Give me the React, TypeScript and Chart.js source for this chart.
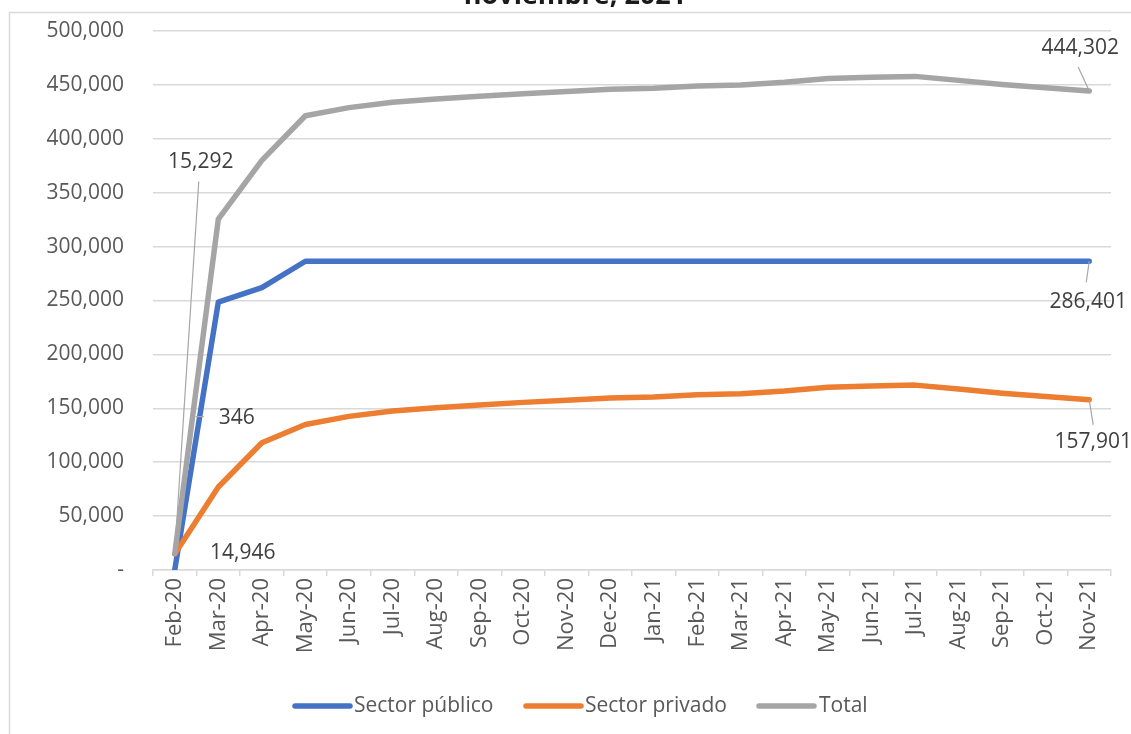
import React, { useEffect, useRef } from "react";
import { Chart, registerables } from "chart.js";

Chart.register(...registerables);

const categories = [
  "Feb-20", "Mar-20", "Apr-20", "May-20", "Jun-20", "Jul-20", "Aug-20", "Sep-20",
  "Oct-20", "Nov-20", "Dec-20", "Jan-21", "Feb-21", "Mar-21", "Apr-21", "May-21",
  "Jun-21", "Jul-21", "Aug-21", "Sep-21", "Oct-21", "Nov-21",
];

const sectorPublico = [
  346, 248500, 262000, 286401, 286401, 286401, 286401, 286401, 286401, 286401, 286401,
  286401, 286401, 286401, 286401, 286401, 286401, 286401, 286401, 286401, 286401, 286401,
];

const sectorPrivado = [
  14946, 77000, 118000, 135000, 142500, 147500, 150500, 153000, 155500, 157500, 159500,
  160500, 162500, 163500, 166000, 169500, 170800, 171500, 167800, 164000, 161000, 157901,
];

const total = [
  15292, 325500, 380000, 421401, 428901, 433901, 436901, 439401, 441901, 443901, 445901,
  446901, 448901, 449901, 452401, 455901, 457201, 457901, 454201, 450401, 447401, 444302,
];

const seriesNames = ["Sector público", "Sector privado", "Total"];
const seriesColors = ["#4472C4", "#ED7D31", "#A5A5A5"];
const titleText = "noviembre, 2021";

const FONT = "'Open Sans', sans-serif";
const fmt = (v: number) => v.toLocaleString("en-US");

const decorPlugin = {
  id: "decor",
  beforeDraw(chart: any) {
    const ctx = chart.ctx;
    ctx.save();
    ctx.fillStyle = "#ffffff";
    ctx.fillRect(0, 0, chart.width, chart.height);
    ctx.strokeStyle = "#D9D9D9";
    ctx.lineWidth = 1.5;
    ctx.beginPath();
    ctx.moveTo(9.5, chart.height);
    ctx.lineTo(9.5, 12.5);
    ctx.lineTo(chart.width, 12.5);
    ctx.stroke();
    ctx.fillStyle = "#1a1a1a";
    ctx.font = `bold 27px ${FONT}`;
    ctx.textAlign = "center";
    ctx.textBaseline = "alphabetic";
    ctx.fillText(titleText, 575, 4);
    ctx.restore();
  },
  afterDraw(chart: any) {
    const ctx = chart.ctx;
    ctx.save();
    const items = [
      { x0: 295, x1: 350, tx: 354 },
      { x0: 526, x1: 581, tx: 585 },
      { x0: 759, x1: 814, tx: 819 },
    ];
    const ly = 706;
    ctx.font = `21px ${FONT}`;
    ctx.textBaseline = "middle";
    ctx.textAlign = "left";
    items.forEach((it, i) => {
      ctx.strokeStyle = seriesColors[i];
      ctx.lineWidth = 5.5;
      ctx.lineCap = "round";
      ctx.beginPath();
      ctx.moveTo(it.x0, ly);
      ctx.lineTo(it.x1, ly);
      ctx.stroke();
      ctx.fillStyle = "#595959";
      ctx.fillText(seriesNames[i], it.tx, ly);
    });
    ctx.restore();
  },
};

const labelsPlugin = {
  id: "dataLabels",
  afterDatasetsDraw(chart: any) {
    const ctx = chart.ctx;
    const pt = (ds: number, idx: number) => chart.getDatasetMeta(ds).data[idx];
    const last = categories.length - 1;
    const labels = [
      { ds: 2, idx: 0, dx: 26, dy: -391, lead: [[0, -1], [24, -372]] },
      { ds: 0, idx: 0, dx: 62, dy: -152, lead: [[21, -153], [29, -153]] },
      { ds: 1, idx: 0, dx: 68, dy: -1, lead: null },
      { ds: 2, idx: last, dx: -9, dy: -43, lead: [[0, 0], [-11, -24]] },
      { ds: 0, idx: last, dx: -1, dy: 41, lead: [[0, 0], [-3, 21]] },
      { ds: 1, idx: last, dx: 4, dy: 42, lead: [[0, 0], [4, 25]] },
    ];
    const values = [sectorPublico, sectorPrivado, total];
    ctx.save();
    labels.forEach((l) => {
      const p = pt(l.ds, l.idx);
      if (!p) return;
      if (l.lead) {
        ctx.strokeStyle = "#A6A6A6";
        ctx.lineWidth = 1.2;
        ctx.beginPath();
        ctx.moveTo(p.x + l.lead[0][0], p.y + l.lead[0][1]);
        ctx.lineTo(p.x + l.lead[1][0], p.y + l.lead[1][1]);
        ctx.stroke();
      }
      ctx.fillStyle = "#404040";
      ctx.font = `21px ${FONT}`;
      ctx.textAlign = "center";
      ctx.textBaseline = "middle";
      ctx.fillText(fmt(values[l.ds][l.idx]), p.x + l.dx, p.y + l.dy);
    });
    ctx.restore();
  },
};

export default function App() {
  const ref = useRef<HTMLCanvasElement | null>(null);
  useEffect(() => {
    if (!ref.current) return;
    const data = [sectorPublico, sectorPrivado, total];
    const chart = new Chart(ref.current, {
      type: "line",
      data: {
        labels: categories,
        datasets: data.map((d, i) => ({
          label: seriesNames[i],
          data: d,
          borderColor: seriesColors[i],
          backgroundColor: seriesColors[i],
          borderWidth: 5.5,
          pointRadius: 0,
          tension: 0,
          borderCapStyle: "round" as const,
          borderJoinStyle: "round" as const,
          fill: false,
          order: 2 - i,
        })),
      },
      options: {
        responsive: false,
        animation: false,
        devicePixelRatio: 1,
        layout: { padding: { left: 0, top: 31, right: 20, bottom: 0 } },
        plugins: {
          legend: { display: false },
          title: { display: false },
          tooltip: { enabled: false },
        },
        scales: {
          x: {
            type: "category",
            offset: true,
            afterFit: (s: any) => {
              s.height = 164;
              s.paddingLeft = 0;
              s.paddingRight = 0;
            },
            grid: {
              offset: true,
              drawOnChartArea: false,
              drawTicks: true,
              tickLength: 6,
              color: "#D9D9D9",
              lineWidth: 1.5,
            },
            border: { display: true, color: "#D9D9D9", width: 1.5 },
            ticks: {
              autoSkip: false,
              maxRotation: 90,
              minRotation: 90,
              padding: 2,
              color: "#595959",
              font: { family: FONT, size: 22 },
            },
          },
          y: {
            min: 0,
            max: 500000,
            afterFit: (s: any) => {
              s.width = 153;
              s.paddingTop = 0;
              s.paddingBottom = 0;
            },
            grid: {
              drawTicks: false,
              color: "#D9D9D9",
              lineWidth: 1.5,
            },
            border: { display: false },
            ticks: {
              stepSize: 50000,
              padding: 29,
              color: "#595959",
              font: { family: FONT, size: 21 },
              callback: (v: any) => (Number(v) === 0 ? "-" : fmt(Number(v))),
            },
          },
        },
      },
      plugins: [decorPlugin, labelsPlugin],
    });
    return () => chart.destroy();
  }, []);

  return (
    <div style={{ position: "fixed", left: 0, top: 0, width: 1131, height: 734, background: "#fff" }}>
      <canvas ref={ref} width={1131} height={734} style={{ display: "block", width: 1131, height: 734 }} />
    </div>
  );
}
